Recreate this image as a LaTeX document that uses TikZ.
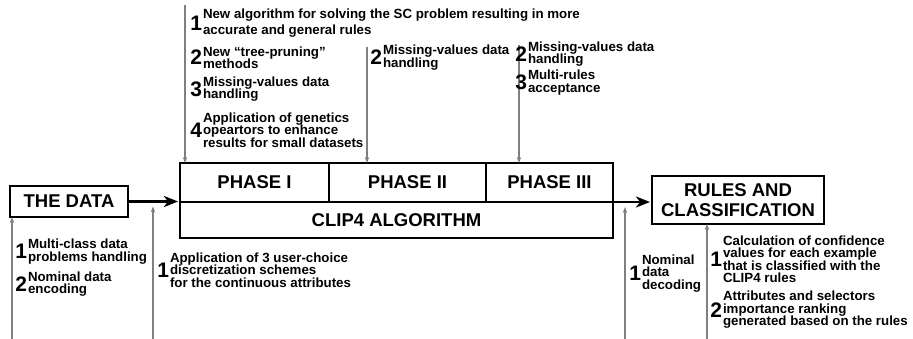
\documentclass[tikz,border=0pt]{standalone}
\usepackage{fontspec}
\setmainfont{Liberation Sans}
\usetikzlibrary{positioning}
\usetikzlibrary{arrows.meta}

\tikzset{
	box/.style={draw, line width=2.6pt, inner sep=0pt, outer sep=0pt, align=center,
		font=\bfseries\fontsize{18.5}{20}\selectfont},
	txt/.style={inner sep=0pt, outer sep=0pt, align=left,
		font=\bfseries\fontsize{13.3}{12.5}\selectfont},
	num/.style={inner sep=0pt, outer sep=0pt, font=\bfseries\fontsize{21}{21}\selectfont},
	feed/.style={line width=2.6pt, -{Stealth[length=14pt,width=11pt,inset=4pt]}},
	hint/.style={gray, line width=1.3pt, -{Stealth[length=6pt,width=4.5pt]}}
}

%numbered note: #1 extra style, #2 name, #3 west point of the text, #4 number, #5 text
\newcommand{\numnote}[5][]{
	\node[txt, anchor=west, #1] (#2) at #3 {#5};
	\node[num, anchor=east] (#2n) at ([xshift=-1pt]#2.west) {#4};
}

\begin{document}
\begin{tikzpicture}[x=1pt, y=-1pt]
	\useasboundingbox (0,0) rectangle (913,339);

	%the algorithm block
	\node[box, minimum width=149pt, minimum height=39pt, anchor=north west] (phase1) at (180,163) {PHASE I};
	\node[box, minimum width=157pt, minimum height=39pt, right=0pt of phase1] (phase2) {PHASE II};
	\node[box, minimum width=127pt, minimum height=39pt, right=0pt of phase2] (phase3) {PHASE III};
	\node[box, minimum width=433pt, minimum height=36pt, anchor=north west] (clip4) at (phase1.south west) {CLIP4 ALGORITHM};

	%input and output
	\node[box, minimum width=118pt, minimum height=31pt, anchor=north west] (data) at (10,186) {THE DATA};
	\node[box, minimum width=172pt, minimum height=48pt, anchor=north west] (rules) at (652,176) {RULES AND\\CLASSIFICATION};

	\draw[feed] (data.east) -- ([xshift=-2pt]data.east -| clip4.west);
	\draw[feed] (phase3.south east) -- ([xshift=-2pt]phase3.south east -| rules.west);

	%arrows from the notes on top
	\coordinate (top1) at (185,5);
	\coordinate (top2) at (367,47);
	\coordinate (top3) at (519,45);
	\draw[hint] (top1) -- (top1 |- phase1.north);
	\draw[hint] (top2) -- (top2 |- phase2.north);
	\draw[hint] (top3) -- (top3 |- phase3.north);

	%arrows from the notes below
	\coordinate (bot1) at (12,339);
	\coordinate (bot2) at (153,339);
	\coordinate (bot3) at (625,339);
	\coordinate (bot4) at (707,339);
	\draw[hint] (bot1) -- (bot1 |- data.south);
	\draw[hint] (bot2) -- ([yshift=-5pt]bot2 |- data.east);
	\draw[hint] (bot3) -- ([yshift=-5pt]bot3 |- phase3.south east);
	\draw[hint] (bot4) -- (bot4 |- rules.south);

	%notes for phase I
	\numnote[font=\bfseries\fontsize{13.3}{16}\selectfont]{a1}{(203,23.5)}{1}{New algorithm for solving the SC problem resulting in more\\accurate and general rules}
	\numnote{a2}{(203,57.5)}{2}{New “tree-pruning”\\methods}
	\numnote{a3}{(203,89)}{3}{Missing-values data\\handling}
	\numnote{a4}{(203,130)}{4}{Application of genetics\\opeartors to enhance\\results for small datasets}

	%notes for phase II and III
	\numnote{b2}{(383,57.5)}{2}{Missing-values data\\handling}
	\numnote{c2}{(528,54)}{2}{Missing-values data\\handling}
	\numnote{c3}{(528,82.5)}{3}{Multi-rules\\acceptance}

	%notes below
	\numnote{d1}{(28,251.5)}{1}{Multi-class data\\problems handling}
	\numnote{d2}{(28,284)}{2}{Nominal data\\encoding}
	\numnote{e1}{(170,270)}{1}{Application of 3 user-choice\\discretization schemes\\for the continuous attributes}
	\numnote{f1}{(642,273.5)}{1}{Nominal\\data\\decoding}
	\numnote{g1}{(723,259)}{1}{Calculation of confidence\\values for each example\\that is classified with the\\CLIP4 rules}
	\numnote{g2}{(723,310)}{2}{Attributes and selectors\\importance ranking\\generated based on the rules}

\end{tikzpicture}
\end{document}
